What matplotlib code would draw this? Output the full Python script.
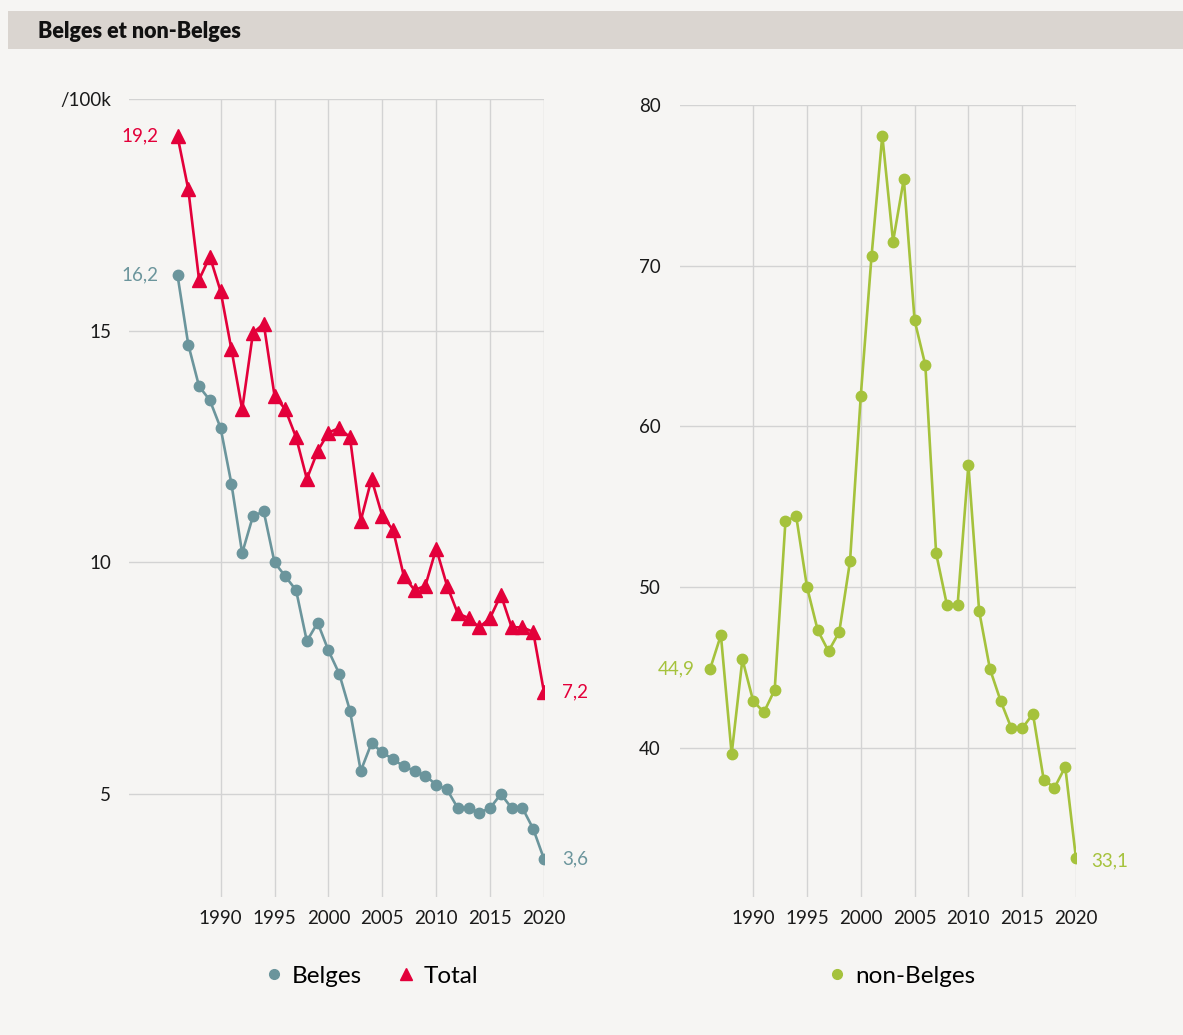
import matplotlib
matplotlib.use("Agg")
import matplotlib.pyplot as plt
from matplotlib.patches import Rectangle
from matplotlib.lines import Line2D

years = list(range(1986, 2021))

belges = [16.2, 14.7, 13.8, 13.5, 12.9, 11.7, 10.2, 11.0, 11.1, 10.0,
          9.7, 9.4, 8.3, 8.7, 8.1, 7.6, 6.8, 5.5, 6.1, 5.9,
          5.75, 5.6, 5.5, 5.4, 5.2, 5.1, 4.7, 4.7, 4.6, 4.7,
          5.0, 4.7, 4.7, 4.25, 3.6]

total = [19.2, 18.05, 16.1, 16.6, 15.85, 14.6, 13.3, 14.95, 15.15, 13.6,
         13.3, 12.7, 11.8, 12.4, 12.8, 12.9, 12.7, 10.9, 11.8, 11.0,
         10.7, 9.7, 9.4, 9.5, 10.3, 9.5, 8.9, 8.8, 8.6, 8.8,
         9.3, 8.6, 8.6, 8.5, 7.2]

non_belges = [44.9, 47.0, 39.6, 45.5, 42.9, 42.2, 43.6, 54.1, 54.4, 50.0,
              47.3, 46.0, 47.2, 51.6, 61.9, 70.6, 78.1, 71.5, 75.4, 66.6,
              63.8, 52.1, 48.9, 48.9, 57.6, 48.5, 44.9, 42.9, 41.2, 41.2,
              42.1, 38.0, 37.5, 38.8, 33.1]

x_ticks = [1990, 1995, 2000, 2005, 2010, 2015, 2020]
left_yticks = [5, 10, 15, 20]
left_yticklabels = ["5", "10", "15", "/100k"]
right_yticks = [40, 50, 60, 70, 80]
right_yticklabels = ["40", "50", "60", "70", "80"]

C_BEL = "#6b959c"
C_TOT = "#e3003a"
C_NON = "#a5c23c"
BG = "#f6f5f3"
HEAD = "#dad5d0"
GRID = "#d3d3d3"
TXT = "#1a1a1a"

FONT = ["Lato", "DejaVu Sans"]
plt.rcParams["font.family"] = FONT

W, H = 1183, 1035
fig = plt.figure(figsize=(W / 100, H / 100), dpi=100, facecolor=BG)


def px_rect(x0, y0, x1, y1):
    return [x0 / W, 1 - y1 / H, (x1 - x0) / W, (y1 - y0) / H]


# header band
fig.patches.append(Rectangle((8 / W, 1 - 49 / H), (W - 8) / W, 38 / H,
                             transform=fig.transFigure, facecolor=HEAD,
                             edgecolor="none", zorder=0))
fig.text(38 / W, 1 - 31 / H, "Belges et non-Belges", fontsize=15.5,
         fontweight="heavy", va="center", ha="left", color="#111111")


def style(ax, yticks, ylabels, ypad):
    ax.set_facecolor(BG)
    for s in ax.spines.values():
        s.set_visible(False)
    ax.set_xticks(x_ticks)
    ax.set_yticks(yticks)
    ax.set_yticklabels(ylabels)
    ax.grid(True, color=GRID, linewidth=1.0)
    ax.set_axisbelow(True)
    ax.tick_params(length=0, labelsize=13.5, colors=TXT)
    ax.tick_params(axis="y", pad=ypad)
    ax.tick_params(axis="x", pad=9)


ax1 = fig.add_axes(px_rect(129, 99, 544, 897))
ax1.plot(years, belges, color=C_BEL, lw=1.9, marker="o", ms=7.5, zorder=3)
ax1.plot(years, total, color=C_TOT, lw=1.9, marker="^", ms=10, zorder=3)
ax1.set_xlim(1981.5, 2020)
ax1.set_ylim(2.78, 20)
style(ax1, left_yticks, left_yticklabels, 13)

fmt = lambda v: f"{v:.1f}".replace(".", ",")
lab_kw = dict(textcoords="offset points", va="center", fontsize=13.5)
ax1.annotate(fmt(total[0]), (years[0], total[0]), xytext=(-14, 0),
             ha="right", color=C_TOT, **lab_kw)
ax1.annotate(fmt(belges[0]), (years[0], belges[0]), xytext=(-14, 0),
             ha="right", color=C_BEL, **lab_kw)
ax1.annotate(fmt(total[-1]), (years[-1], total[-1]), xytext=(13, 0),
             ha="left", color=C_TOT, **lab_kw)
ax1.annotate(fmt(belges[-1]), (years[-1], belges[-1]), xytext=(13, 0),
             ha="left", color=C_BEL, **lab_kw)

ax2 = fig.add_axes(px_rect(680, 105, 1076, 897))
ax2.plot(years, non_belges, color=C_NON, lw=1.9, marker="o", ms=7.5, zorder=3)
ax2.set_xlim(1983.2, 2020)
ax2.set_ylim(30.7, 80)
style(ax2, right_yticks, right_yticklabels, 14)
ax2.annotate(fmt(non_belges[0]), (years[0], non_belges[0]), xytext=(-11, 0),
             ha="right", color=C_NON, **lab_kw)
ax2.annotate(fmt(non_belges[-1]), (years[-1], non_belges[-1]), xytext=(11, -2),
             ha="left", color=C_NON, **lab_kw)

# legends
h_bel = Line2D([], [], color=C_BEL, marker="o", ls="none", ms=7)
h_tot = Line2D([], [], color=C_TOT, marker="^", ls="none", ms=9)
h_non = Line2D([], [], color=C_NON, marker="o", ls="none", ms=7)
leg_kw = dict(frameon=False, fontsize=17.5, handletextpad=0.25,
              columnspacing=1.3, handlelength=1.0)
fig.legend([h_bel, h_tot], ["Belges", "Total"], loc="center",
           bbox_to_anchor=(370 / W, 1 - 976 / H), ncol=2, **leg_kw)
fig.legend([h_non], ["non-Belges"], loc="center",
           bbox_to_anchor=(900 / W, 1 - 976 / H), ncol=1, **leg_kw)

fig.savefig("out.png", dpi=100, facecolor=BG)
